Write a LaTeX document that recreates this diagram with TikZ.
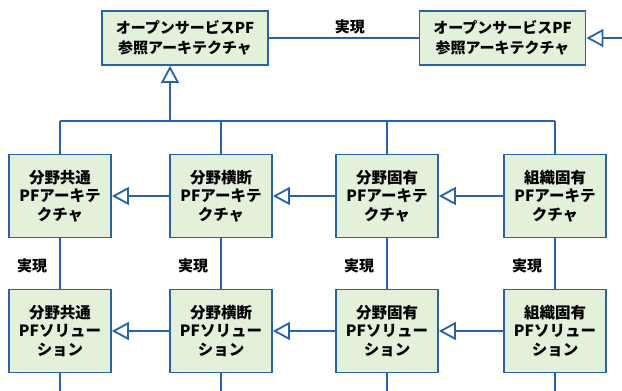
\documentclass[tikz,border=0pt]{standalone}
\usepackage{fontspec}
\setmainfont{Noto Sans CJK JP}
\usetikzlibrary{arrows.meta}
\definecolor{boxfill}{HTML}{E3F0DA}
\definecolor{lineblue}{HTML}{2A62A4}
\tikzset{
  box/.style={draw=lineblue, line width=1.8pt, fill=boxfill, minimum width=102pt, minimum height=83pt, align=center, inner sep=0pt, font=\fontsize{15.5pt}{18.5pt}\selectfont\bfseries},
  topbox/.style={box, minimum width=166pt, minimum height=54pt, font=\fontsize{15pt}{19.5pt}\selectfont\bfseries},
  conn/.style={draw=lineblue, line width=1.8pt},
  gen/.style={conn, -{Triangle[open, length=17pt, width=18pt, fill=white]}},
  lbl/.style={font=\fontsize{15pt}{16pt}\selectfont\bfseries, inner sep=0pt}
}
\begin{document}
\begin{tikzpicture}[x=1pt, y=-1pt]
\useasboundingbox (0,0) rectangle (622,391);
% top boxes
\node[topbox] (A) at (185,38) {オープンサービスPF\\参照アーキテクチャ};
\node[topbox] (B) at (502.5,38) {オープンサービスPF\\参照アーキテクチャ};
\coordinate (Rend) at (622,38);
\draw[conn] (A.east) -- node[lbl, above=3pt, xshift=6pt] {実現} (B.west);
\draw[gen] (Rend) -- (B.east);
% row 1
\node[box] (a1) at (60,196) {分野共通\\PFアーキテ\\クチャ};
\node[box] (b1) at (221,196) {分野横断\\PFアーキテ\\クチャ};
\node[box] (c1) at (387,196) {分野固有\\PFアーキテ\\クチャ};
\node[box] (d1) at (555,196) {組織固有\\PFアーキテ\\クチャ};
% row 2
\node[box] (a2) at (60,331) {分野共通\\PFソリュー\\ション};
\node[box] (b2) at (221,331) {分野横断\\PFソリュー\\ション};
\node[box] (c2) at (387,331) {分野固有\\PFソリュー\\ション};
\node[box] (d2) at (555,331) {組織固有\\PFソリュー\\ション};
% bus
\coordinate (busL) at (60,121);
\coordinate (busR) at (555,121);
\coordinate (busM) at (170,121);
\draw[conn] (busL) -- (busR);
\draw[gen] (busM) -- (busM |- A.south);
\foreach \n in {a,b,c,d}{
  \draw[conn] (\n1.north |- busL) -- (\n1.north);
}
% horizontal generalisations
\draw[gen] (b1.west) -- (a1.east);
\draw[gen] (c1.west) -- (b1.east);
\draw[gen] (d1.west) -- (c1.east);
\draw[gen] (b2.west) -- (a2.east);
\draw[gen] (c2.west) -- (b2.east);
\draw[gen] (d2.west) -- (c2.east);
% realisation
\foreach \n in {a,b,c,d}{
  \draw[conn] (\n1.south) -- node[lbl, left=12pt, yshift=-2.5pt] {実現} (\n2.north);
  \coordinate (\n bot) at (\n2.south |- 0,391);
  \draw[conn] (\n2.south) -- (\n bot);
}
\end{tikzpicture}
\end{document}
